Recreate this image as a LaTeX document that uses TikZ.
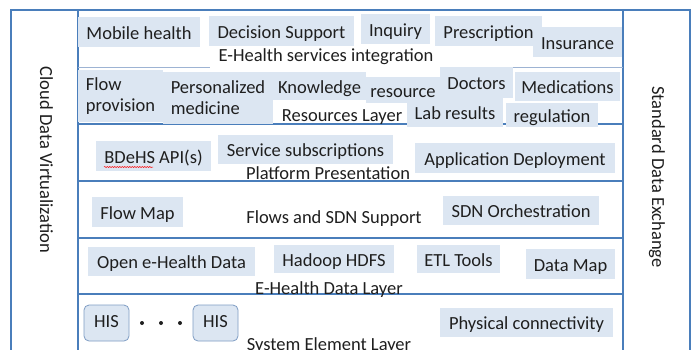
\documentclass[tikz,border=0pt]{standalone}
\usepackage{fontspec}
\setmainfont{Carlito}
\usetikzlibrary{decorations.pathmorphing}
\definecolor{frame}{HTML}{4A7EBB}
\definecolor{faintline}{HTML}{9DB3D3}
\definecolor{boxfill}{HTML}{DCE6F2}
\definecolor{hisline}{HTML}{7F9DC4}
\definecolor{txt}{HTML}{1F1F1F}
\begin{document}
\begin{tikzpicture}[x=1bp,y=-1bp,
  every node/.style={font=\fontsize{18.5bp}{21bp}\selectfont, text=txt},
  blk/.style={fill=boxfill, inner sep=0pt, text height=15bp, text depth=1bp},
  blktwo/.style={fill=boxfill, inner sep=0pt, align=left},
  lbl/.style={inner sep=0pt, text height=15bp, text depth=1bp},
  sidelbl/.style={inner sep=0pt, text height=13bp, text depth=5bp},
  his/.style={draw=hisline, fill=boxfill, rounded corners=5bp, line width=0.8bp, inner sep=0pt,
              minimum width=45bp, minimum height=36bp, text height=13bp, text depth=5bp},
  dotnode/.style={circle, fill=txt, inner sep=0pt, minimum size=4bp},
  frameline/.style={draw=frame, line width=1.2bp}]
\useasboundingbox (0,0) rectangle (692,349);
\clip (0,0) rectangle (692,349);
\fill[white] (0,0) rectangle (692,349);
% frame
\draw[frameline] (11,10) rectangle (690,370);
\draw[frameline] (78,10) -- (78,370);
\draw[frameline] (623,10) -- (623,370);
\draw[draw=faintline, line width=0.7bp] (78,67) -- (210,67);
\draw[draw=faintline, line width=0.7bp] (440,67) -- (623,67);
\draw[frameline] (78,124) -- (623,124);
\draw[frameline] (78,181) -- (623,181);
\draw[frameline] (78,238) -- (623,238);
\draw[frameline] (78,294) -- (623,294);
% row 1
\node[blk, minimum width=122bp, minimum height=30bp] (mobile) at (139,32) {Mobile health};
\node[blk, minimum width=145bp, minimum height=30bp] (decision) at (281.5,31) {Decision Support};
\node[blk, minimum width=69bp, minimum height=30bp] (inquiry) at (395.5,29) {Inquiry};
\node[blk, minimum width=89bp, minimum height=30bp] (insurance) at (577.5,42) {Insurance};
\node[blk, minimum width=107bp, minimum height=30bp] (prescription) at (488.5,31) {Prescription};
\node[lbl] (ehsi) at (326,54) {E-Health services integration};
% row 2
\node[blktwo, minimum width=85bp, minimum height=52bp] (flowprov) at (120.5,96) {Flow\\provision};
\node[blktwo, minimum width=110bp, minimum height=52bp] (persmed) at (218,97.5) {Personalized\\medicine};
\node[blk, minimum width=93bp, minimum height=28bp] (knowledge) at (319.5,86) {Knowledge};
\node[blk, minimum width=74bp, minimum height=26bp] (resource) at (403,90) {resource};
\node[blk, minimum width=73bp, minimum height=31bp] (doctors) at (476.5,82.5) {Doctors};
\node[blk, minimum width=105bp, minimum height=29bp] (medications) at (567.5,86.5) {Medications};
\node[lbl] (reslayer) at (342,114) {Resources Layer};
\node[blk, minimum width=96bp, minimum height=29bp] (labres) at (455,112.5) {Lab results};
\node[blk, minimum width=92bp, minimum height=24bp] (regulation) at (552,115) {regulation};
% row 3
\node[blk, minimum width=115bp, minimum height=30bp] (bdehs) at (153.5,156) {BDeHS API(s)};
\draw[red, line width=0.5bp, decorate, decoration={snake, amplitude=0.6bp, segment length=2.5bp}] (104,167) -- (153,167);
\node[blk, minimum width=175bp, minimum height=29bp] (servsub) at (305.5,149.5) {Service subscriptions};
\node[lbl] (platform) at (328,172) {Platform Presentation};
\node[blk, minimum width=200bp, minimum height=30bp] (appdep) at (515,158) {Application Deployment};
% row 4
\node[blk, minimum width=91bp, minimum height=30bp] (flowmap) at (137.5,212) {Flow Map};
\node[lbl] (flowsdn) at (334,216) {Flows and SDN Support};
\node[blk, minimum width=156bp, minimum height=29bp] (sdnorch) at (521,210.5) {SDN Orchestration};
% row 5
\node[blk, minimum width=167bp, minimum height=29bp] (openeh) at (171.5,261.5) {Open e-Health Data};
\node[blk, minimum width=120bp, minimum height=28bp] (hadoop) at (334,259) {Hadoop HDFS};
\node[blk, minimum width=83bp, minimum height=28bp] (etl) at (458.5,259) {ETL Tools};
\node[blk, minimum width=89bp, minimum height=30bp] (datamap) at (570.5,264) {Data Map};
\node[lbl] (ehdl) at (329,287) {E-Health Data Layer};
% row 6
\node[his] (his1) at (106.5,323) {HIS};
\node[dotnode] (dot1) at (142,323) {};
\node[dotnode] (dot2) at (161,323) {};
\node[dotnode] (dot3) at (180,323) {};
\node[his] (his2) at (215.5,323) {HIS};
\node[lbl] (sel) at (329,343) {System Element Layer};
\node[blk, minimum width=173bp, minimum height=29bp] (phys) at (526.5,322.5) {Physical connectivity};
% side labels
\node[sidelbl, rotate=-90] (cdv) at (44,160) {Cloud Data Virtualization};
\node[sidelbl, rotate=-90] (sde) at (656,177) {Standard Data Exchange};
\end{tikzpicture}
\end{document}
